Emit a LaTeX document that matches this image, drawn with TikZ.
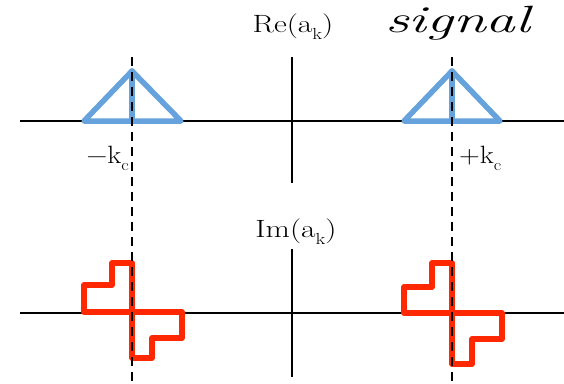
\documentclass[tikz,border=0pt]{standalone}
\usepackage{fontspec}
\usepackage{graphicx}
\definecolor{triblue}{RGB}{102,163,221}
\definecolor{stepred}{RGB}{255,40,0}
\newcommand{\subk}[1]{\raisebox{-0.28em}{\fontsize{16}{16}\selectfont #1}}
\tikzset{
  axis/.style={black, line width=2.4pt},
  guide/.style={black, line width=2.4pt, dash pattern=on 9pt off 6pt},
  tri/.style={triblue, line width=5.5pt, line join=round, line cap=round},
  stepshape/.style={stepred, line width=5.5pt, line join=round, line cap=round},
  lab/.style={inner sep=0pt, anchor=base, font=\fontsize{25}{28}\selectfont},
}
\begin{document}
\begin{tikzpicture}[x=1pt,y=-1pt]
\useasboundingbox (0,0) rectangle (564,383);
% axes
\coordinate (tl) at (20,121); \coordinate (tr) at (564,121);
\coordinate (tt) at (292,57); \coordinate (tb) at (292,183);
\coordinate (bl) at (20,313); \coordinate (br) at (564,313);
\coordinate (bt) at (292,249); \coordinate (bb) at (292,377);
\draw[axis] (tl) -- (tr);
\draw[axis] (tt) -- (tb);
\draw[axis] (bl) -- (br);
\draw[axis] (bt) -- (bb);
% blue triangles
\draw[tri] (84,121) -- (132,71) -- (181,121) -- cycle;
\draw[tri] (132,71) -- (132,121);
\draw[tri] (404,121) -- (452,71) -- (500,121) -- cycle;
\draw[tri] (452,71) -- (452,121);
% red step shapes
\draw[stepshape] (132,263) -- (112,263) -- (112,285) -- (84,285) -- (84,312) -- (132,312) -- cycle;
\draw[stepshape] (132,312) -- (182,312) -- (182,338) -- (152,338) -- (152,358) -- (132,358) -- cycle;
\draw[stepshape] (452,263) -- (432,263) -- (432,287) -- (404,287) -- (404,313) -- (452,313) -- cycle;
\draw[stepshape] (452,313) -- (502,313) -- (502,339) -- (472,339) -- (472,364) -- (452,364) -- cycle;
% dashed guides
\coordinate (lgt) at (132,57); \coordinate (lgb) at (132,383);
\coordinate (rgt) at (452,57); \coordinate (rgb) at (452,383);
\draw[guide] (lgt) -- (lgb);
\draw[guide] (rgt) -- (rgb);
% labels
\node[lab] (re) at (293,32) {\scalebox{1.26}[1]{Re(a\subk{k})}};
\node[lab] (im) at (296,237) {\scalebox{1.26}[1]{Im(a\subk{k})}};
\node[lab, anchor=base east] (mk) at (129,163) {\scalebox{1.15}[1]{\char"2212 k\subk{c}}};
\node[lab, anchor=base west] (pk) at (459,163) {\scalebox{1.15}[1]{+k\subk{c}}};
\node[inner sep=0pt, anchor=base west, font=\fontsize{38}{42}\selectfont\itshape] (sig) at (385,32) {\scalebox{1.56}[1]{signal}};
\end{tikzpicture}
\end{document}
